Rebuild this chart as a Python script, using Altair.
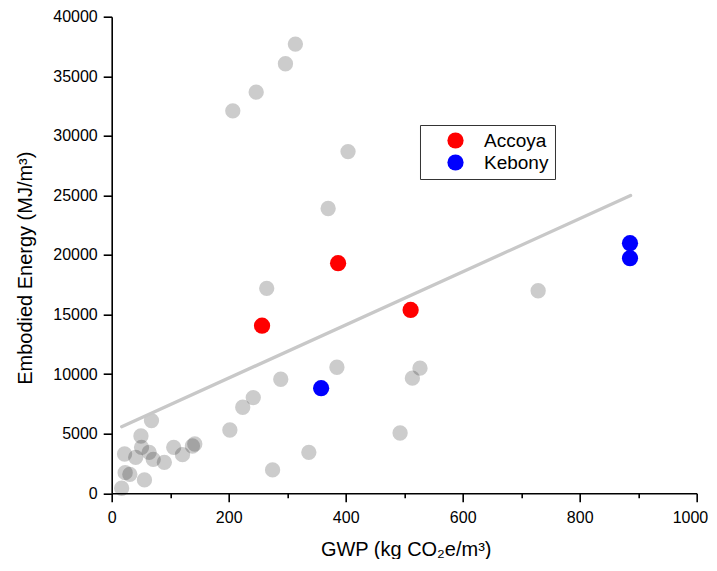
import altair as alt
import pandas as pd

# ---- data ----
gray_gwp = [314, 297, 247, 207, 404, 370, 265, 729, 385, 527, 514, 289, 242, 224,
            68, 202, 493, 50, 142, 138, 51, 106, 64, 337, 22, 121, 41, 71, 90,
            275, 23, 31, 56, 17]
gray_energy = [37700, 36050, 33670, 32100, 28680, 23900, 17200, 17000, 10580, 10500,
               9660, 9570, 8030, 7220, 6100, 5310, 5060, 4810, 4140, 3970, 3860, 3860,
               3440, 3440, 3300, 3240, 3020, 2850, 2600, 1960, 1730, 1590, 1120, 420]

accoya_gwp = [257, 387, 511]
accoya_energy = [14070, 19310, 15390]
kebony_gwp = [358, 886, 886]
kebony_energy = [8820, 19730, 20990]

trend_gwp = [17, 887]
trend_energy = [5590, 24990]

series_names = ["Accoya", "Kebony"]
series_colors = ["#ff0000", "#0000ff"]

x_ticks = list(range(0, 1001, 100))
y_ticks = list(range(0, 40001, 2500))

FONT = "Liberation Sans"

gray_df = pd.DataFrame({"gwp": gray_gwp, "energy": gray_energy})
wood_df = pd.DataFrame({
    "gwp": accoya_gwp + kebony_gwp,
    "energy": accoya_energy + kebony_energy,
    "wood": [series_names[0]] * len(accoya_gwp) + [series_names[1]] * len(kebony_gwp),
})
trend_df = pd.DataFrame({"gwp": trend_gwp, "energy": trend_energy})

x_scale = alt.Scale(domain=[0, 1000], nice=False, zero=False)
y_scale = alt.Scale(domain=[0, 40000], nice=False)

x_axis = alt.Axis(
    title="GWP (kg CO\u2082e/m\u00b3)",
    values=x_ticks,
    format="d",
    labelExpr="datum.value % 200 === 0 ? datum.label : ''",
    tickSize={"condition": {"test": "datum.value % 200 === 0", "value": 8.5}, "value": 4.5},
    labelAlign={"condition": {"test": "datum.value === 1000", "value": "right"}, "value": "center"},
    labelOffset={"condition": {"test": "datum.value === 1000", "value": 11}, "value": 0},
    labelPadding=8,
    labelFlush=False,
    titleX=294,
    titleY=62,
    titleBaseline="alphabetic",
    titleAlign="center",
    titleAnchor="middle",
)
y_axis = alt.Axis(
    title="Embodied Energy (MJ/m\u00b3)",
    values=y_ticks,
    format="d",
    labelExpr="datum.value % 5000 === 0 ? datum.label : ''",
    tickSize={"condition": {"test": "datum.value % 5000 === 0", "value": 8.5}, "value": 4.5},
    labelPadding=6,
    labelFlush=False,
    titleX=-86,
    titleY=251,
    titleAngle=270,
    titleBaseline="middle",
    titleAlign="center",
    titleAnchor="middle",
)

gray = alt.Chart(gray_df).mark_circle(size=235, color="#000000", opacity=0.2).encode(
    x=alt.X("gwp:Q", scale=x_scale, axis=x_axis),
    y=alt.Y("energy:Q", scale=y_scale, axis=y_axis),
)

trend = alt.Chart(trend_df).mark_line(color="#c8c8c8", strokeWidth=3.3, strokeCap="round").encode(
    x=alt.X("gwp:Q", scale=x_scale),
    y=alt.Y("energy:Q", scale=y_scale),
)

wood = alt.Chart(wood_df).mark_circle(size=263, opacity=1).encode(
    x=alt.X("gwp:Q", scale=x_scale),
    y=alt.Y("energy:Q", scale=y_scale),
    color=alt.Color(
        "wood:N",
        scale=alt.Scale(domain=series_names, range=series_colors),
        legend=alt.Legend(
            title=None,
            orient="none",
            legendX=308.3,
            legendY=108.3,
            padding=6,
            rowPadding=2,
            symbolSize=263,
            symbolType="circle",
            symbolOffset=20,
            labelOffset=19,
            labelFontSize=19,
            labelFont=FONT,
            labelColor="#000000",
            strokeColor="#333333",
            fillColor="#ffffff",
            cornerRadius=0,
        ),
    ),
)

chart = alt.layer(gray, trend, wood).properties(
    width=585,
    height=476.6,
    autosize=alt.AutoSizeParams(type="none"),
    padding={"left": 103.7, "top": 8.7, "right": 12, "bottom": 66},
).configure_view(
    stroke=None
).configure_axis(
    grid=False,
    domainColor="#000000",
    domainWidth=1.6,
    tickColor="#000000",
    tickWidth=1.6,
    labelFont=FONT,
    labelFontSize=16,
    labelColor="#000000",
    titleFont=FONT,
    titleFontSize=20,
    titleFontWeight="normal",
    titleColor="#000000",
)

chart.save("out.html", embed_options={"renderer": "svg", "actions": False})
